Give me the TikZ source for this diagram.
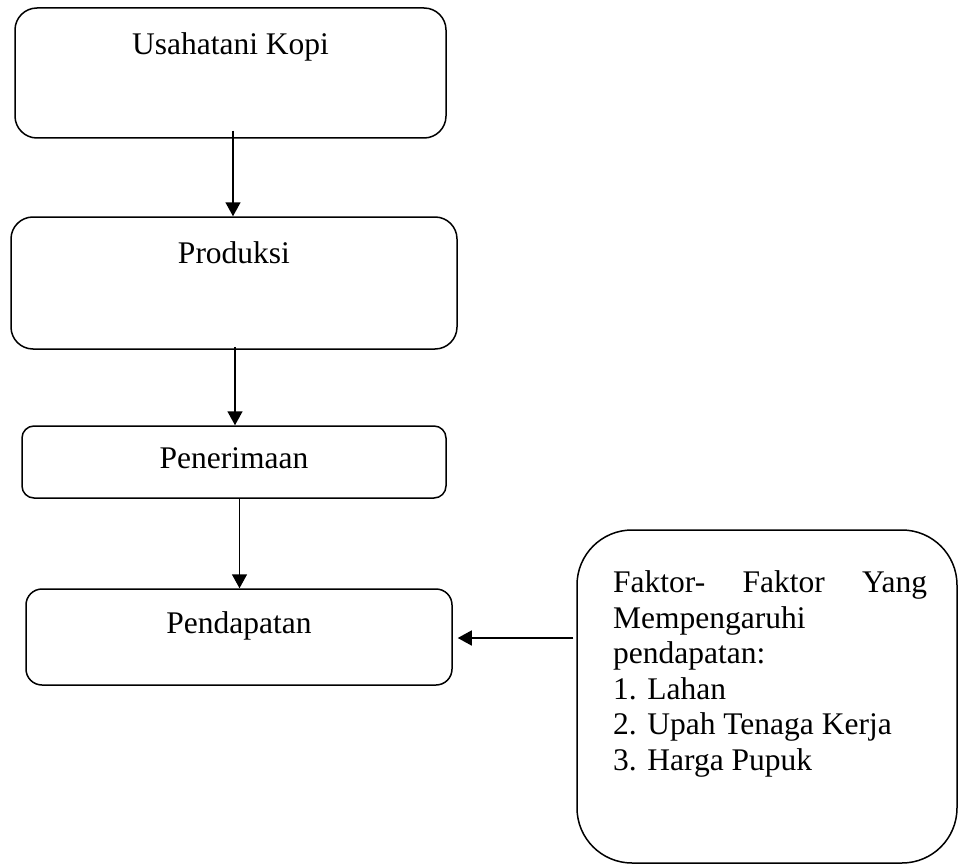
\documentclass[tikz,border=0pt]{standalone}
\usepackage{fontspec}
\setmainfont{Liberation Serif}
\usetikzlibrary{arrows.meta,calc}
\begin{document}
\begin{tikzpicture}[x=1pt,y=-1pt,
  box/.style={draw=black, line width=1.5pt, inner sep=0pt},
  lbl/.style={anchor=base, inner sep=0pt, font=\fontsize{31.5}{35.5}\selectfont},
  lbll/.style={anchor=base west, inner sep=0pt, font=\fontsize{31.5}{35.5}\selectfont},
  arr/.style={line width=1.5pt, -{Triangle[width=15pt,length=14pt]}}]
\useasboundingbox (0,0) rectangle (959,864);
% boxes
\node[box, rounded corners=22pt, minimum width=431pt, minimum height=130pt] (b1) at (230.5,73) {};
\node[box, rounded corners=22pt, minimum width=446pt, minimum height=132pt] (b2) at (234,283) {};
\node[box, rounded corners=12pt, minimum width=424pt, minimum height=72pt] (b3) at (234,462) {};
\node[box, rounded corners=16pt, minimum width=426pt, minimum height=96pt] (b4) at (239,637) {};
\node[box, rounded corners=55pt, minimum width=380pt, minimum height=333pt] (b5) at (767,696.5) {};
% texts
\node[lbl] (t1) at (230.5,55) {Usahatani Kopi};
\node[lbl] (t2) at (234,263) {Produksi};
\node[lbl] (t3) at (234,468) {Penerimaan};
\node[lbl] (t4) at (239,633) {Pendapatan};
\node[lbll] (t5a) at (613,592.5) {\hbox to 314pt{Faktor-\hfill Faktor\hfill Yang}};
\node[lbll] (t5b) at (613,628) {Mempengaruhi};
\node[lbll] (t5c) at (613,663.5) {pendapatan:};
\node[lbll] (t5d) at (613,699) {1. Lahan};
\node[lbll] (t5e) at (613,734.5) {2. Upah Tenaga Kerja};
\node[lbll] (t5f) at (613,770) {3. Harga Pupuk};
% connectors
\draw[arr] ($(b1.south)+(2.5,-8)$) -- ($(b2.north)+(-1,0)$);
\draw[arr] ($(b2.south)+(1,-3)$) -- ($(b3.north)+(1,0)$);
\draw[arr] ($(b3.south)+(5.5,0)$) -- ($(b4.north)+(0.5,0)$);
\draw[arr] ($(b5.west |- b4.east)+(-3,1)$) -- ($(b4.east)+(5,1)$);
\end{tikzpicture}
\end{document}
